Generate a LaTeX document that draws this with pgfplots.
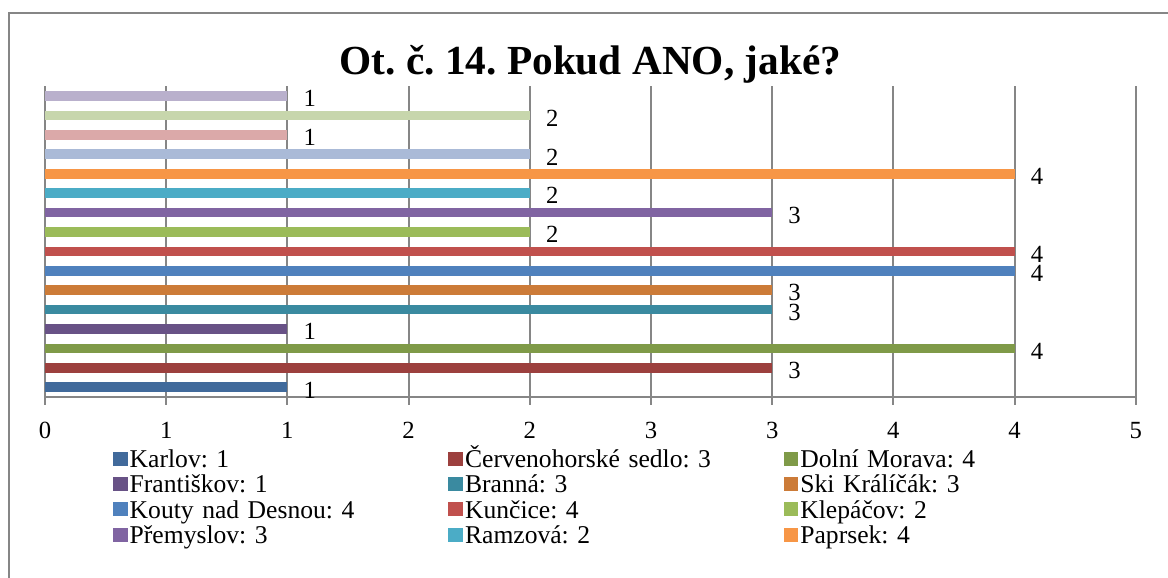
\documentclass[border=0pt]{standalone}
\usepackage{fontspec}
\setmainfont{Liberation Serif}
\usepackage{pgfplots}
\pgfplotsset{compat=1.18}
\frenchspacing
\definecolor{c1}{RGB}{65,106,155}
\definecolor{c2}{RGB}{156,64,62}
\definecolor{c3}{RGB}{127,154,72}
\definecolor{c4}{RGB}{104,82,134}
\definecolor{c5}{RGB}{58,138,160}
\definecolor{c6}{RGB}{204,123,56}
\definecolor{c7}{RGB}{79,129,189}
\definecolor{c8}{RGB}{192,80,77}
\definecolor{c9}{RGB}{155,187,89}
\definecolor{c10}{RGB}{128,100,162}
\definecolor{c11}{RGB}{75,172,198}
\definecolor{c12}{RGB}{247,150,70}
\definecolor{c13}{RGB}{170,186,215}
\definecolor{c14}{RGB}{219,169,169}
\definecolor{c15}{RGB}{199,214,172}
\definecolor{c16}{RGB}{185,176,204}
\definecolor{gridc}{RGB}{134,134,134}
\newcommand{\fs}{\fontsize{18.5}{18.5}\selectfont\frenchspacing}
\newcommand{\fl}{\fontsize{19.2}{19.2}\selectfont\frenchspacing}
\begin{document}
\begin{tikzpicture}
\begin{axis}[
  at={(33.75pt,136.1pt)}, anchor=south west,
  scale only axis, width=818.1pt, height=232.9pt,
  xbar, bar width=0.5, bar shift=0pt,
  xmin=0, xmax=4.5, ymin=0.52, ymax=16.52,
  axis x line*=bottom, axis y line*=left,
  axis line style={draw=gridc, line width=1.5pt},
  xtick={0,0.5,1,1.5,2,2.5,3,3.5,4,4.5},
  xticklabels={0,1,1,2,2,3,3,4,4,5},
  ytick=\empty,
  tick align=outside, major tick length=6pt,
  tick style={draw=gridc, line width=1.5pt},
  xmajorgrids, grid style={draw=gridc, line width=1.5pt},
  xticklabel style={font=\fs, inner sep=0pt, anchor=north, yshift=-13pt},
  /pgf/number format/assume math mode=true,
  title={Ot. č. 14. Pokud ANO, jaké?},
  title style={at={(axis description cs:0.5,1.042)}, anchor=base, yshift=-7.5pt, inner sep=0pt, font=\fontsize{31}{31}\selectfont\bfseries},
  point meta=x,
  nodes near coords,
  every node near coord/.append style={font=\fs, anchor=west, inner sep=0pt, xshift=12pt, yshift=-2pt, text=black},
  legend columns=3,
  legend image code/.code={\draw[#1,draw=none] (0pt,1.5pt) rectangle (11pt,12pt);},
  legend style={at={(axis description cs:0.0624,-0.173)}, anchor=north west, draw=none, fill=none,
    inner sep=0pt, outer sep=0pt, row sep=0pt, font=\fl,
    nodes={inner sep=0pt, anchor=base west, text width=239pt, align=left, text height=13pt, text depth=6pt},
    /tikz/every odd column/.style={column sep=1.5pt},
    /tikz/every even column/.style={column sep=0pt}},
]
\addplot[fill=c1, draw=none] coordinates {(1,1)};
\addlegendentry{Karlov: 1}
\addplot[fill=c2, draw=none] coordinates {(3,2)};
\addlegendentry{Červenohorské sedlo: 3}
\addplot[fill=c3, draw=none] coordinates {(4,3)};
\addlegendentry{Dolní Morava: 4}
\addplot[fill=c4, draw=none] coordinates {(1,4)};
\addlegendentry{Františkov: 1}
\addplot[fill=c5, draw=none] coordinates {(3,5)};
\addlegendentry{Branná: 3}
\addplot[fill=c6, draw=none] coordinates {(3,6)};
\addlegendentry{Ski Králíčák: 3}
\addplot[fill=c7, draw=none] coordinates {(4,7)};
\addlegendentry{Kouty nad Desnou: 4}
\addplot[fill=c8, draw=none] coordinates {(4,8)};
\addlegendentry{Kunčice: 4}
\addplot[fill=c9, draw=none] coordinates {(2,9)};
\addlegendentry{Klepáčov: 2}
\addplot[fill=c10, draw=none] coordinates {(3,10)};
\addlegendentry{Přemyslov: 3}
\addplot[fill=c11, draw=none] coordinates {(2,11)};
\addlegendentry{Ramzová: 2}
\addplot[fill=c12, draw=none] coordinates {(4,12)};
\addlegendentry{Paprsek: 4}
\addplot[fill=c13, draw=none, forget plot] coordinates {(2,13)};
\addplot[fill=c14, draw=none, forget plot] coordinates {(1,14)};
\addplot[fill=c15, draw=none, forget plot] coordinates {(2,15)};
\addplot[fill=c16, draw=none, forget plot] coordinates {(1,16)};
\end{axis}
\draw[draw=gridc, line width=1.5pt] (6.75pt,-5pt) -- (6.75pt,423.75pt) -- (880pt,423.75pt);
\pgfresetboundingbox
\useasboundingbox (0,0) rectangle (876pt,433.5pt);
\end{tikzpicture}
\end{document}
